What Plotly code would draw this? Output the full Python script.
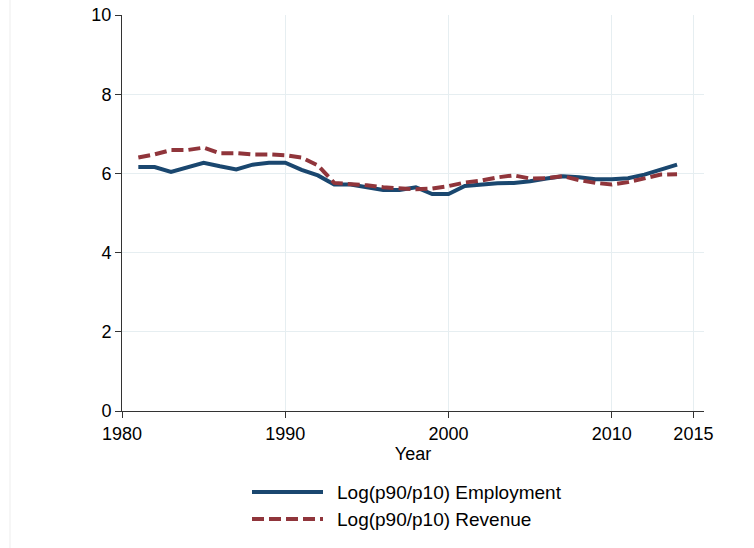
import plotly.graph_objects as go

years = list(range(1981, 2015))
employment = [6.16, 6.16, 6.04, 6.16, 6.27, 6.18, 6.10, 6.22, 6.27, 6.27,
              6.09, 5.95, 5.72, 5.72, 5.65, 5.58, 5.58, 5.65, 5.48, 5.48,
              5.68, 5.72, 5.75, 5.76, 5.80, 5.87, 5.93, 5.90, 5.85, 5.85,
              5.88, 5.97, 6.09, 6.22]
revenue = [6.40, 6.48, 6.59, 6.59, 6.65, 6.51, 6.51, 6.48, 6.48, 6.46,
           6.40, 6.20, 5.76, 5.74, 5.70, 5.65, 5.62, 5.60, 5.62, 5.68,
           5.77, 5.82, 5.90, 5.95, 5.87, 5.88, 5.93, 5.83, 5.76, 5.72,
           5.78, 5.87, 5.97, 5.98]
series_names = ["Log(p90/p10) Employment", "Log(p90/p10) Revenue"]
x_ticks = [1980, 1990, 2000, 2010, 2015]
y_ticks = [0, 2, 4, 6, 8, 10]

BLUE = "#1a476f"
RED = "#90353b"
GRID = "#e6eef1"
FONT = "Liberation Sans, Arial, sans-serif"

fig = go.Figure()
fig.add_trace(go.Scatter(x=years, y=employment, mode="lines", name=series_names[0],
                         line=dict(color=BLUE, width=4), showlegend=False))
fig.add_trace(go.Scatter(x=years, y=revenue, mode="lines", name=series_names[1],
                         line=dict(color=RED, width=4, dash="12px,5px"), showlegend=False))

L, R, T, B = 122, 704, 15, 411
W, H = 754, 548
pw, ph = R - L, B - T

def px(x):
    return (x - L) / pw

def py(y):
    return (B - y) / ph

# custom legend (line samples + labels)
for i, (name, col, dash) in enumerate([(series_names[0], BLUE, "solid"),
                                         (series_names[1], RED, "12px,5px")]):
    yy = 492 + 27 * i
    fig.add_shape(type="line", xref="paper", yref="paper",
                  x0=px(252), x1=px(323), y0=py(yy), y1=py(yy),
                  line=dict(color=col, width=4, dash=dash))
    fig.add_annotation(xref="paper", yref="paper", x=px(335), y=py(yy),
                       text=name, showarrow=False, xanchor="left", yanchor="middle",
                       font=dict(size=19, color="#000000", family=FONT))

# faint outer border line on the left
fig.add_shape(type="line", xref="paper", yref="paper",
              x0=px(10), x1=px(10), y0=py(0), y1=py(H),
              line=dict(color="#ededed", width=1))

fig.update_layout(
    width=W, height=H,
    margin=dict(l=L, r=W - R, t=T, b=H - B, autoexpand=False),
    paper_bgcolor="white", plot_bgcolor="white",
    font=dict(family=FONT, size=18, color="#000000"),
    xaxis=dict(range=[1980, 2015.65], tickvals=x_ticks, ticktext=[str(v) for v in x_ticks],
               showgrid=True, gridcolor=GRID, gridwidth=1, automargin=False,
               showline=True, linecolor="#333333", linewidth=1,
               ticks="outside", ticklen=6, tickcolor="#333333",
               zeroline=False, title=dict(text="Year", standoff=0,
                                          font=dict(size=18, family=FONT))),
    yaxis=dict(range=[0, 10], tickvals=y_ticks, ticktext=[str(v) for v in y_ticks],
               showgrid=True, gridcolor=GRID, gridwidth=1, automargin=False,
               showline=True, linecolor="#333333", linewidth=1,
               ticks="outside", ticklen=6, tickcolor="#333333",
               zeroline=False),
)

fig.write_html("out.html", config={"displayModeBar": False},
               post_script="document.body.style.margin='0';document.body.style.padding='0';")
